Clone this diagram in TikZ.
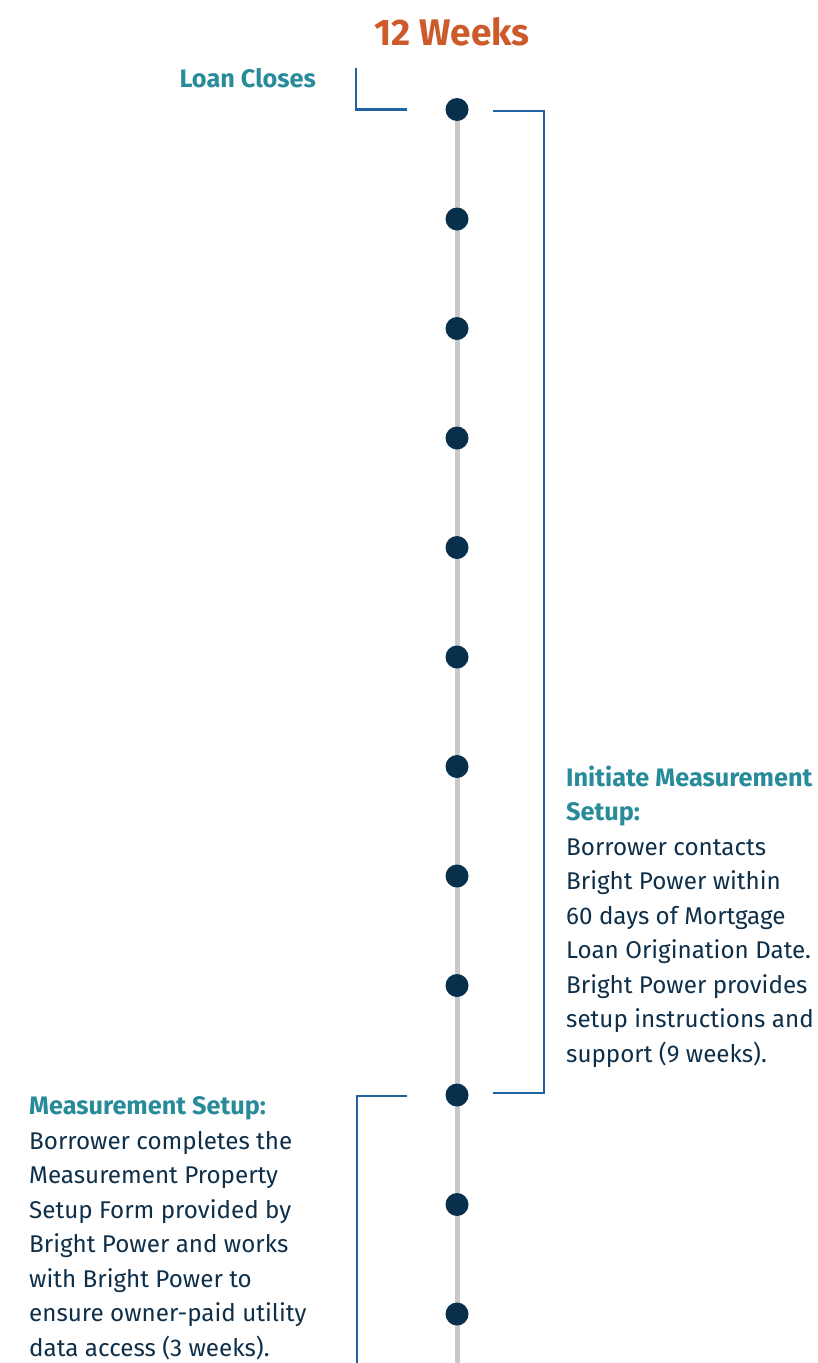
\documentclass[tikz,border=0pt]{standalone}
\usepackage{fontspec}
\setmainfont{Fira Sans}
\definecolor{bracketblue}{HTML}{2062A2}
\definecolor{linegray}{HTML}{C8C8C8}
\definecolor{dotnavy}{HTML}{08304D}
\definecolor{headteal}{HTML}{288B9A}
\definecolor{bodynavy}{HTML}{0E2F4A}
\definecolor{titleorange}{HTML}{CC5A2A}
\newcommand{\headfont}{\fontsize{25.3}{34.5}\selectfont\bfseries}
\begin{document}
\begin{tikzpicture}[x=1pt,y=-1pt,
  bracket/.style={draw=bracketblue,line width=2.4pt},
  timeline/.style={draw=linegray,line width=5pt},
  weekdot/.style={circle,fill=dotnavy,minimum size=23pt,inner sep=0pt},
  bodytext/.style={inner sep=0pt,align=left,text=bodynavy,font=\fontsize{24.2}{34.5}\selectfont},
  heading/.style={text=headteal,font=\headfont}]
\useasboundingbox (0,0) rectangle (817,1363);
\coordinate (lineend) at (457,1363);
\draw[timeline] (457,109) -- (lineend);
\foreach \i in {0,...,11}{
  \node[weekdot] (d\i) at (457,{109.5+109.5*\i}) {};
}
\node[anchor=base,inner sep=0pt,text=titleorange,font=\fontsize{37}{42}\selectfont\bfseries] (title) at (452,45) {12 Weeks};
\node[anchor=base east,inner sep=0pt,heading] (loan) at (316,87) {Loan Closes};
% bracket 1
\coordinate (b1a) at (356,68);
\coordinate (b1b) at (407,109.5);
\draw[bracket] (b1a) |- (b1b);
% bracket 2
\coordinate (b2a) at (493,111);
\coordinate (b2b) at (544,111);
\coordinate (b2c) at (544,1093);
\coordinate (b2d) at (493,1093);
\draw[bracket] (b2a) -- (b2b) -- (b2c) -- (b2d);
% bracket 3
\coordinate (b3a) at (407,1096);
\coordinate (b3b) at (357,1363);
\draw[bracket] (b3a) -| (b3b);
\node[bodytext,anchor=base west] (init) at (566,1062) {{\headfont\color{headteal}Initiate Measurement}\\{\headfont\color{headteal}Setup:}\\Borrower contacts\\Bright Power within\\60 days of Mortgage\\Loan Origination Date.\\Bright Power provides\\setup instructions and\\support (9 weeks).};
\node[bodytext,anchor=base west] (meas) at (29,1356) {{\headfont\color{headteal}Measurement Setup:}\\Borrower completes the\\Measurement Property\\Setup Form provided by\\Bright Power and works\\with Bright Power to\\ensure owner-paid utility\\data access (3 weeks).};
\end{tikzpicture}
\end{document}
